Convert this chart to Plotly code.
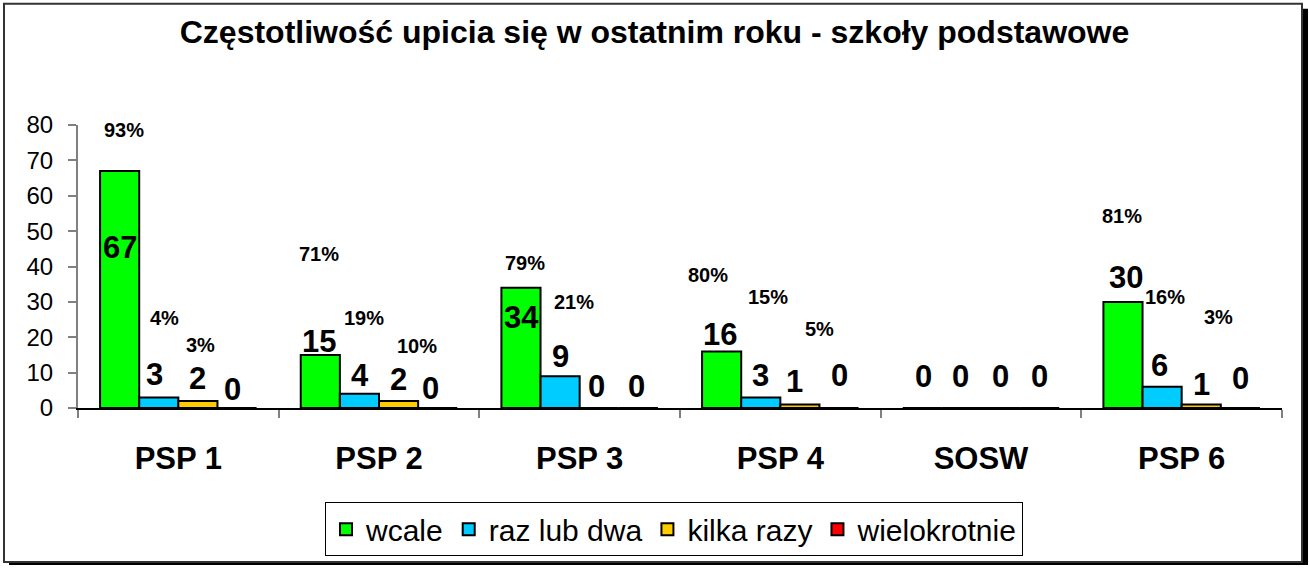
import plotly.graph_objects as go

# ---- data ----
categories = ["PSP 1", "PSP 2", "PSP 3", "PSP 4", "SOSW", "PSP 6"]
series_names = ["wcale", "raz lub dwa", "kilka razy", "wielokrotnie"]
wcale = [67, 15, 34, 16, 0, 30]
raz_lub_dwa = [3, 4, 9, 3, 0, 6]
kilka_razy = [2, 2, 0, 1, 0, 1]
wielokrotnie = [0, 0, 0, 0, 0, 0]
pct_wcale = [93, 71, 79, 80, None, 81]
pct_raz = [4, 19, 21, 15, None, 16]
pct_kilka = [3, 10, None, 5, None, 3]
y_ticks = [0, 10, 20, 30, 40, 50, 60, 70, 80]

# ---- label placement (layout only: x offset from category centre, y in axis units) ----
val_dx = [
    [-0.293, -0.301, -0.290, -0.300, -0.289, -0.275],
    [-0.119, -0.095, -0.098, -0.099, -0.100, -0.111],
    [0.096, 0.097, 0.086, 0.073, 0.097, 0.099],
    [0.268, 0.259, 0.281, 0.293, 0.292, 0.293],
]
val_y = [
    [45.5, 18.7, 25.7, 20.8, 9.0, 36.8],
    [9.5, 9.3, 14.6, 9.1, 9.0, 11.9],
    [8.4, 8.1, 6.2, 7.6, 9.0, 6.7],
    [5.3, 5.6, 6.2, 9.1, 9.0, 8.4],
]
pct_dx = [
    [-0.271, -0.299, -0.270, -0.358, 0, -0.297],
    [-0.069, -0.075, -0.028, -0.061, 0, -0.081],
    [0.108, 0.189, 0, 0.193, 0, 0.183],
]
pct_y = [
    [78.6, 43.6, 41.0, 37.5, 0, 54.3],
    [25.5, 25.4, 30.0, 31.3, 0, 31.3],
    [17.7, 17.5, 0, 22.2, 0, 25.7],
]

colors = ["#00FF00", "#00CCFF", "#FFCC00", "#FF0000"]
FONT = "Arial, Liberation Sans, sans-serif"

all_series = [wcale, raz_lub_dwa, kilka_razy, wielokrotnie]
all_pct = [pct_wcale, pct_raz, pct_kilka]

fig = go.Figure()
for name, vals, col in zip(series_names, all_series, colors):
    fig.add_trace(go.Bar(
        x=categories, y=vals, name=name,
        marker=dict(color=col, line=dict(color="black", width=2)),
    ))

annotations = []
for s, vals in enumerate(all_series):
    for i, v in enumerate(vals):
        annotations.append(dict(
            x=i + val_dx[s][i], y=val_y[s][i], xref="x", yref="y",
            text=str(v), showarrow=False,
            font=dict(family=FONT, size=31, color="black", weight="bold"),
            xanchor="center", yanchor="middle",
        ))
for s, pcts in enumerate(all_pct):
    for i, p in enumerate(pcts):
        if p is None:
            continue
        annotations.append(dict(
            x=i + pct_dx[s][i], y=pct_y[s][i], xref="x", yref="y",
            text=f"{p}%", showarrow=False,
            font=dict(family=FONT, size=20, color="black", weight="bold"),
            xanchor="center", yanchor="middle",
        ))

# frame geometry in pixels -> paper coords
W, H = 1309, 568
L, R, T, B = 78, 27, 125, 158
pw, ph = W - L - R, H - T - B


def px(xp):
    return (xp - L) / pw


def py(yp):
    return (H - B - yp) / ph


shapes = [
    dict(type="rect", xref="paper", yref="paper", layer="below",
         x0=px(9), x1=px(1308), y0=py(568), y1=py(8),
         fillcolor="black", line=dict(width=0)),
    dict(type="rect", xref="paper", yref="paper", layer="below",
         x0=px(4), x1=px(1302), y0=py(565), y1=py(3),
         fillcolor="white", line=dict(color="#333333", width=2)),
]

fig.update_layout(
    width=W, height=H,
    margin=dict(l=L, r=R, t=T, b=B),
    paper_bgcolor="white", plot_bgcolor="rgba(0,0,0,0)",
    barmode="group", bargap=0.22, bargroupgap=0,
    title=dict(text="Częstotliwość upicia się w ostatnim roku - szkoły podstawowe",
               x=0.5, xanchor="center", xref="container",
               y=1 - 32 / H, yanchor="middle", yref="container",
               font=dict(family=FONT, size=32, color="black", weight="bold")),
    showlegend=True,
    legend=dict(orientation="h", x=px(674), xanchor="center",
                y=py(505), yanchor="top",
                bordercolor="black", borderwidth=1, bgcolor="white",
                font=dict(family=FONT, size=30, color="black")),
    annotations=annotations,
    shapes=shapes,
)
fig.update_xaxes(
    type="category", range=[-0.5, 5.5],
    showline=True, linecolor="black", linewidth=2,
    ticks="outside", tickson="boundaries", ticklen=8, tickcolor="#808080", tickwidth=2,
    tickfont=dict(family=FONT, size=31, color="black", weight="bold"),
    ticklabelstandoff=22, showgrid=False,
)
fig.update_yaxes(
    range=[0, 80], tickvals=y_ticks,
    showline=True, linecolor="#808080", linewidth=2,
    ticks="outside", ticklen=8, tickcolor="#808080", tickwidth=2,
    tickfont=dict(family=FONT, size=24, color="black"),
    ticklabelstandoff=10,
    showgrid=False, zeroline=False,
)

fig.write_html("out.html", config={"displayModeBar": False},
               post_script="document.body.style.margin='0';")
